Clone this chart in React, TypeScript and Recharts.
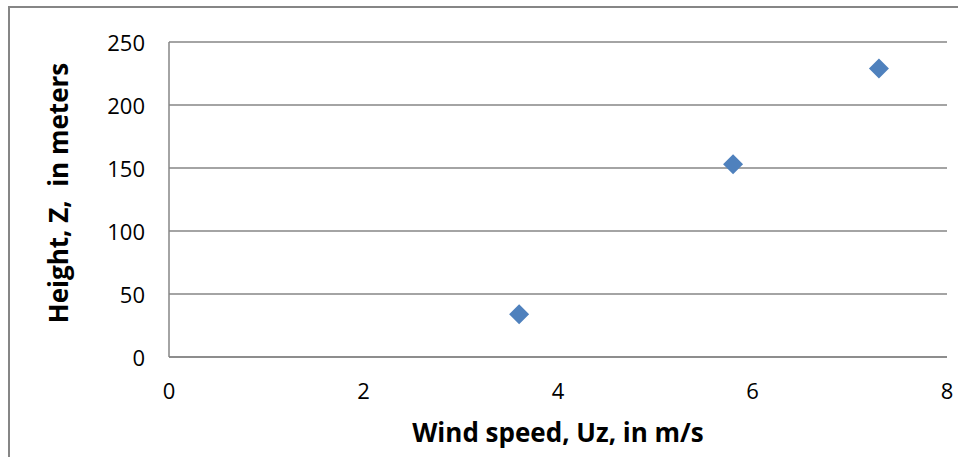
import React from 'react';
import { ScatterChart, Scatter, XAxis, YAxis, CartesianGrid } from 'recharts';

// wind speed (m/s) vs height (m)
const windSpeed = [3.6, 5.8, 7.3];
const height = [34, 153, 229];
const xTicks = [0, 2, 4, 6, 8];
const yTicks = [0, 50, 100, 150, 200, 250];

const points = windSpeed.map((u, i) => ({ u, z: height[i] }));

const FONT = '"Open Sans", sans-serif';
const GRAY = '#868686';

const Diamond = (props: any) => {
  const { cx, cy } = props;
  const r = 10;
  return (
    <polygon
      points={`${cx},${cy - r} ${cx + r},${cy} ${cx},${cy + r} ${cx - r},${cy}`}
      fill="#4F81BD"
    />
  );
};

const YTitle = () => (
  <text
    x={58}
    y={193}
    transform="rotate(-90 58 193)"
    textAnchor="middle"
    dominantBaseline="central"
    fontFamily={FONT}
    fontWeight="bold"
    fontSize={26}
    fill="#000"
    style={{ whiteSpace: 'pre' }}
  >
    Height, Z,  in meters
  </text>
);

export default function App() {
  return (
    <div style={{ position: 'fixed', left: 0, top: 0, width: 958, height: 457, background: '#fff', overflow: 'hidden' }}>
      <div style={{ position: 'absolute', left: 8, top: 6, width: 1000, height: 500, border: `2px solid ${GRAY}`, boxSizing: 'border-box' }} />
      <ScatterChart width={958} height={457} margin={{ top: 42, right: 11, bottom: 0, left: 0 }}>
        <CartesianGrid horizontal vertical={false} stroke={GRAY} strokeWidth={1.5} />
        <XAxis
          type="number"
          dataKey="u"
          domain={[0, 8]}
          ticks={xTicks}
          height={100}
          axisLine={{ stroke: GRAY, strokeWidth: 1.5 }}
          tickLine={false}
          tickMargin={20}
          tick={{ fill: '#000', fontSize: 22, fontFamily: FONT }}
          label={{ value: 'Wind speed, Uz, in m/s', position: 'insideBottom', offset: 15, fill: '#000', fontSize: 26, fontWeight: 'bold', fontFamily: FONT }}
        />
        <YAxis
          type="number"
          dataKey="z"
          domain={[0, 250]}
          ticks={yTicks}
          width={169}
          axisLine={{ stroke: GRAY, strokeWidth: 1.5 }}
          tickLine={false}
          tickMargin={18}
          tick={{ fill: '#000', fontSize: 22, fontFamily: FONT, dy: 1.5 }}
          label={<YTitle />}
        />
        <Scatter data={points} shape={<Diamond />} isAnimationActive={false} />
      </ScatterChart>
    </div>
  );
}
